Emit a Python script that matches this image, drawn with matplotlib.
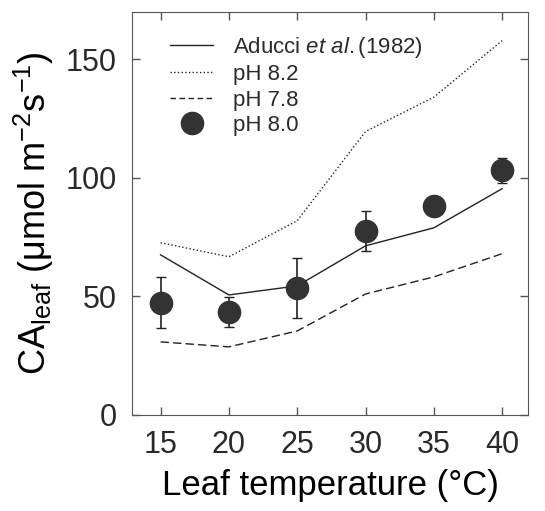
import numpy as np
import matplotlib
matplotlib.use('Agg')
import matplotlib.pyplot as plt
from matplotlib.lines import Line2D

plt.rcParams.update({
    'font.family': 'Liberation Sans',
    'mathtext.fontset': 'custom',
    'mathtext.rm': 'Liberation Sans',
    'mathtext.it': 'Liberation Sans:italic',
    'mathtext.default': 'regular',
    'text.color': '#2a2a2a',
    'axes.edgecolor': '#555555',
    'xtick.color': '#555555',
    'ytick.color': '#555555',
    'xtick.labelcolor': '#2a2a2a',
    'ytick.labelcolor': '#2a2a2a',
})

# data
temps = [15, 20, 25, 30, 35, 40]
aducci = [67.5, 50.6, 54.4, 71.3, 78.9, 95.4]
ph82 = [72.6, 66.7, 81.9, 119.5, 134.0, 157.8]
ph78 = [30.8, 28.7, 35.4, 51.0, 58.2, 68.0]
ph80 = [47.2, 43.5, 53.6, 77.6, 88.0, 103.2]
ph80_err_lo = [10.5, 6.4, 12.6, 8.4, 3.0, 5.3]
ph80_err_hi = [11.0, 6.3, 12.6, 8.4, 3.0, 5.0]

fig = plt.figure(figsize=(5.45, 5.11), dpi=100)
ax = fig.add_axes([0.242, 0.188, 0.727, 0.789])

ln = '#222222'
ax.plot(temps, aducci, '-', color=ln, lw=1.0)
ax.plot(temps, ph82, ':', color=ln, lw=1.0)
ax.plot(temps, ph78, '--', color=ln, lw=1.0, dashes=(6, 3))
ax.errorbar(temps, ph80, yerr=[ph80_err_lo, ph80_err_hi], fmt='none',
            ecolor='#222222', elinewidth=1.2, capsize=3.5, capthick=1.0, zorder=2)
ax.plot(temps, ph80, 'o', color='#333333', ms=16, mec='#333333', zorder=3)

ax.set_xlim(12.9, 41.9)
ax.set_ylim(0, 170)
ax.set_xticks(temps)
ax.set_yticks([0, 50, 100, 150])
ax.tick_params(direction='in', length=6, width=1, top=True, right=True,
               labelsize=22, pad=11)

ax.set_xlabel('Leaf temperature (°C)', fontsize=25, labelpad=6)
ax.set_ylabel('CA$_{leaf}$ ($\\mu$mol m$^{-2}$s$^{-1}$)', fontsize=26, labelpad=7)

handles = [
    Line2D([], [], ls='-', color=ln, lw=1.0),
    Line2D([], [], ls=':', color=ln, lw=1.0),
    Line2D([], [], ls='--', color=ln, lw=1.0, dashes=(4, 2.5)),
    Line2D([], [], ls='none', marker='o', color='#333333', ms=16),
]
labels = ['Aducci $\\it{et\\ al.}$(1982)', 'pH 8.2', 'pH 7.8', 'pH 8.0']
ax.legend(handles, labels, loc='upper left', frameon=False, fontsize=16,
          handlelength=1.9, handletextpad=0.9, labelspacing=0.2,
          borderaxespad=0.0, bbox_to_anchor=(0.075, 0.965))

fig.savefig('out.png', dpi=100)
